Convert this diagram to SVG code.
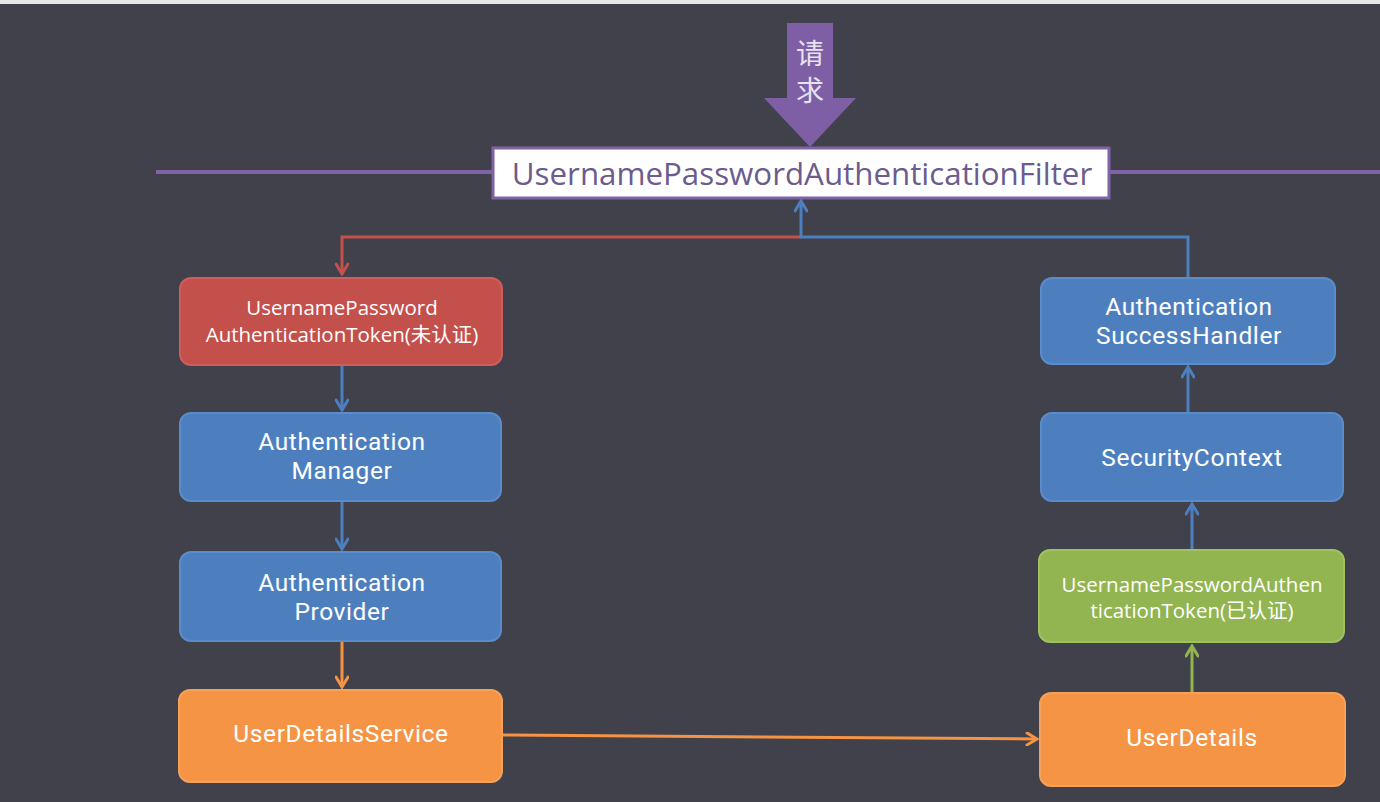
<svg xmlns="http://www.w3.org/2000/svg" width="1380" height="802" viewBox="0 0 1380 802">
<defs>
<style>
.t{font-family:"Open Sans","Noto Sans","Noto Sans CJK SC",sans-serif;fill:#ffffff;text-anchor:middle}
.big{font-family:Roboto,"Open Sans",sans-serif;font-size:24.5px;letter-spacing:0.6px}
.sm{font-size:20.5px}
.blue{fill:#4d7fbf;stroke:#5a8ccb;stroke-width:2}
.red{fill:#c4504c;stroke:#cf5e5a;stroke-width:2}
.green{fill:#92b552;stroke:#9fc160;stroke-width:2}
.orange{fill:#f49444;stroke:#f7a058;stroke-width:2}
.c{fill:none;stroke-width:3}
</style>
<marker id="aB" markerUnits="userSpaceOnUse" viewBox="0 0 14 14" refX="12" refY="7" markerWidth="14" markerHeight="14" orient="auto"><path d="M2,1 L12,7 L2,13" fill="none" stroke="#4d7fbf" stroke-width="3" stroke-linecap="round"/></marker>
<marker id="aR" markerUnits="userSpaceOnUse" viewBox="0 0 14 14" refX="12" refY="7" markerWidth="14" markerHeight="14" orient="auto"><path d="M2,1 L12,7 L2,13" fill="none" stroke="#c4504c" stroke-width="3" stroke-linecap="round"/></marker>
<marker id="aO" markerUnits="userSpaceOnUse" viewBox="0 0 14 14" refX="12" refY="7" markerWidth="14" markerHeight="14" orient="auto"><path d="M2,1 L12,7 L2,13" fill="none" stroke="#f49444" stroke-width="3" stroke-linecap="round"/></marker>
<marker id="aG" markerUnits="userSpaceOnUse" viewBox="0 0 14 14" refX="12" refY="7" markerWidth="14" markerHeight="14" orient="auto"><path d="M2,1 L12,7 L2,13" fill="none" stroke="#92b552" stroke-width="3" stroke-linecap="round"/></marker>
</defs>
<rect x="0" y="0" width="1380" height="802" fill="#40414b"/>
<rect x="0" y="0" width="1380" height="4" fill="#e6e7ea"/>
<line x1="156" y1="172" x2="1380" y2="172" stroke="#7f63a6" stroke-width="4"/>

<g id="request">
<path d="M787,23 H833 V98 H856 L810,147 L764,98 H787 Z" fill="#7e5fa6"/>
<text x="810" class="t" style="font-size:28px;fill:#e8e2f0"><tspan x="810" y="64">请</tspan><tspan x="810" y="101">求</tspan></text>
</g>

<g id="filter">
<rect x="493" y="148" width="616" height="50" fill="#ffffff" stroke="#7f63a6" stroke-width="3"/>
<text x="802" y="185" class="t" style="font-size:31.3px;fill:#6b5b8e">UsernamePasswordAuthenticationFilter</text>
</g>

<g id="connectors">
<path class="c" stroke="#c4504c" d="M801,237 H342 V274" marker-end="url(#aR)"/>
<path class="c" stroke="#4d7fbf" d="M1188,278 V237 H801 V201" marker-end="url(#aB)"/>
<path class="c" stroke="#4d7fbf" d="M342,365 V410" marker-end="url(#aB)"/>
<path class="c" stroke="#4d7fbf" d="M342,502 V549" marker-end="url(#aB)"/>
<path class="c" stroke="#f49444" d="M342,642 V687" marker-end="url(#aO)"/>
<path class="c" stroke="#f49444" d="M503,735 L1037,739" marker-end="url(#aO)"/>
<path class="c" stroke="#92b552" d="M1192,693 V646" marker-end="url(#aG)"/>
<path class="c" stroke="#4d7fbf" d="M1192,550 V504" marker-end="url(#aB)"/>
<path class="c" stroke="#4d7fbf" d="M1188,413 V367" marker-end="url(#aB)"/>
</g>

<g id="tokenUnauth">
<rect x="180" y="278" width="322" height="87" rx="11" class="red"/>
<text class="t sm"><tspan x="342" y="315">UsernamePassword</tspan><tspan x="342" y="342">AuthenticationToken(未认证)</tspan></text>
</g>

<g id="manager">
<rect x="180" y="413" width="321" height="88" rx="11" class="blue"/>
<text class="t big"><tspan x="342" y="450">Authentication</tspan><tspan x="342" y="479">Manager</tspan></text>
</g>

<g id="provider">
<rect x="180" y="552" width="321" height="89" rx="11" class="blue"/>
<text class="t big"><tspan x="342" y="591">Authentication</tspan><tspan x="342" y="620">Provider</tspan></text>
</g>

<g id="userDetailsService">
<rect x="179" y="690" width="323" height="92" rx="11" class="orange"/>
<text x="341" y="742" class="t big">UserDetailsService</text>
</g>

<g id="successHandler">
<rect x="1041" y="278" width="294" height="86" rx="11" class="blue"/>
<text class="t big"><tspan x="1189" y="315">Authentication</tspan><tspan x="1189" y="344">SuccessHandler</tspan></text>
</g>

<g id="securityContext">
<rect x="1041" y="413" width="302" height="88" rx="11" class="blue"/>
<text x="1192" y="466" class="t big">SecurityContext</text>
</g>

<g id="tokenAuth">
<rect x="1039" y="550" width="305" height="92" rx="11" class="green"/>
<text class="t sm"><tspan x="1192" y="592">UsernamePasswordAuthen</tspan><tspan x="1192" y="618">ticationToken(已认证)</tspan></text>
</g>

<g id="userDetails">
<rect x="1040" y="693" width="305" height="93" rx="11" class="orange"/>
<text x="1192" y="746" class="t big">UserDetails</text>
</g>
</svg>
